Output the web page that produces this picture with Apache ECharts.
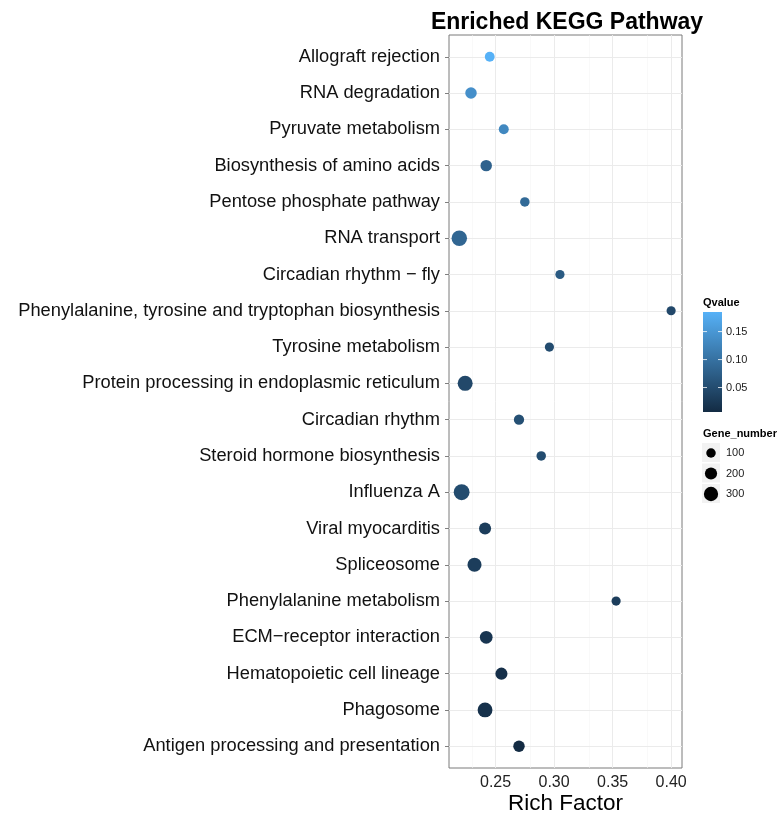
<!DOCTYPE html>
<html>
<head>
<meta charset="utf-8">
<script src="https://cdn.jsdelivr.net/npm/echarts@6/dist/echarts.min.js"></script>
<style>html,body{margin:0;padding:0;background:#fff}#chart{width:781px;height:814px}</style>
</head>
<body>
<div id="chart"></div>
<script>
// ---- data (top to bottom) ----
var pathways = [
  "Allograft rejection",
  "RNA degradation",
  "Pyruvate metabolism",
  "Biosynthesis of amino acids",
  "Pentose phosphate pathway",
  "RNA transport",
  "Circadian rhythm \u2212 fly",
  "Phenylalanine, tyrosine and tryptophan biosynthesis",
  "Tyrosine metabolism",
  "Protein processing in endoplasmic reticulum",
  "Circadian rhythm",
  "Steroid hormone biosynthesis",
  "Influenza A",
  "Viral myocarditis",
  "Spliceosome",
  "Phenylalanine metabolism",
  "ECM\u2212receptor interaction",
  "Hematopoietic cell lineage",
  "Phagosome",
  "Antigen processing and presentation"
];
var richFactor = [0.245, 0.229, 0.257, 0.242, 0.275, 0.219, 0.305, 0.400, 0.296, 0.224,
                  0.270, 0.289, 0.221, 0.241, 0.232, 0.353, 0.242, 0.255, 0.241, 0.270];
var qValue = [0.185, 0.140, 0.130, 0.080, 0.090, 0.085, 0.070, 0.045, 0.050, 0.045,
              0.055, 0.050, 0.050, 0.030, 0.030, 0.030, 0.020, 0.012, 0.014, 0.0063];
var geneNumber = [110, 170, 115, 170, 100, 370, 90, 90, 90, 340,
                  125, 100, 390, 195, 290, 90, 225, 195, 330, 170];
var xTicks = [0.25, 0.30, 0.35, 0.40];
var xMinor = [0.225, 0.275, 0.325, 0.375];
var qTicks = [0.05, 0.10, 0.15];
var sizeBreaks = [100, 200, 300];

var qMin = 0.0063, qMax = 0.185;
var lowColor = '#132B43', highColor = '#56B1F7';
function diam(g){ return 3 + 0.65 * Math.sqrt(g); }

var rowIdx = pathways.map(function(p, i){ return i; });
var points = pathways.map(function(p, i){ return [richFactor[i], i, qValue[i], geneNumber[i], p]; });

var FONT = 'Liberation Sans';
var chart = echarts.init(document.getElementById('chart'), null, {renderer: 'canvas'});

// legend geometry
var cbLeft = 703, cbTop = 312, cbW = 19, cbH = 100;
var graphics = [];
graphics.push({type:'text', left: 703, top: 297, style:{text:'Qvalue', font:'bold 11px ' + FONT, fill:'#000'}});
graphics.push({type:'rect', shape:{x:cbLeft, y:cbTop, width:cbW, height:cbH},
  style:{fill: new echarts.graphic.LinearGradient(0, 0, 0, 1, [{offset:0, color:highColor}, {offset:1, color:lowColor}])}});
qTicks.forEach(function(v){
  var y = cbTop + cbH * (qMax - v) / (qMax - qMin);
  graphics.push({type:'line', shape:{x1:cbLeft, y1:y, x2:cbLeft+4, y2:y}, style:{stroke:'#fff', lineWidth:0.8}, z: 100});
  graphics.push({type:'line', shape:{x1:cbLeft+cbW-4, y1:y, x2:cbLeft+cbW, y2:y}, style:{stroke:'#fff', lineWidth:0.8}, z: 100});
  graphics.push({type:'text', x: 726, y: y, style:{text: v.toFixed(2), font:'11px ' + FONT, fill:'#1a1a1a', verticalAlign:'middle'}});
});
graphics.push({type:'text', left: 703, top: 428, style:{text:'Gene_number', font:'bold 11px ' + FONT, fill:'#000'}});
sizeBreaks.forEach(function(g, k){
  var cy = 453 + k * 20.5;
  graphics.push({type:'rect', shape:{x:702, y:cy-10, width:18, height:19}, style:{fill:'#f2f2f2'}});
  graphics.push({type:'circle', shape:{cx:711, cy:cy, r: diam(g)/2}, style:{fill:'#000'}, z: 10});
  graphics.push({type:'text', x: 726, y: cy, style:{text:String(g), font:'11px ' + FONT, fill:'#1a1a1a', verticalAlign:'middle'}});
});

var gridLines = [];
xTicks.forEach(function(v){ gridLines.push({xAxis: v, lineStyle:{color:'#ebebeb', width:1, type:'solid'}}); });
xMinor.forEach(function(v){ gridLines.push({xAxis: v, lineStyle:{color:'#f5f5f5', width:0.6, type:'solid'}}); });
rowIdx.forEach(function(i){ gridLines.push({yAxis: i, lineStyle:{color:'#ebebeb', width:1, type:'solid'}}); });

chart.setOption({
  backgroundColor: '#fff',
  animation: false,
  title: {
    text: 'Enriched KEGG Pathway', left: 562, top: 6, textAlign: 'center',
    textStyle: {fontFamily: FONT, fontWeight: 'bold', fontSize: 23, color: '#000'}
  },
  grid: {left: 449, right: 99, top: 35, bottom: 46, show: true, borderColor: '#7a7a7a', borderWidth: 1,
         backgroundColor: '#fff', containLabel: false, outerBoundsMode: 'none'},
  xAxis: {
    type: 'value', min: 0.2102, max: 0.4093,
    name: 'Rich Factor', nameLocation: 'middle', nameGap: 24, nameMoveOverlap: false,
    nameTextStyle: {fontFamily: FONT, fontSize: 22.5, color: '#000'},
    axisLine: {show: false},
    axisTick: {show: true, length: 4, customValues: xTicks, lineStyle: {color: '#7f7f7f'}},
    axisLabel: {customValues: xTicks, formatter: function(v){ return v.toFixed(2); }, fontFamily: FONT, fontSize: 16, color: '#222', margin: 7},
    splitLine: {show: false}
  },
  yAxis: {
    type: 'value', inverse: true, min: -0.6, max: pathways.length - 0.4,
    axisLine: {show: false},
    axisTick: {show: true, length: 4, customValues: rowIdx, lineStyle: {color: '#7f7f7f'}},
    axisLabel: {customValues: rowIdx, formatter: function(v){ return pathways[Math.round(v)]; },
                fontFamily: FONT, fontSize: 18.3, color: '#111', margin: 9},
    splitLine: {show: false}
  },
  visualMap: {
    type: 'continuous', show: false, seriesIndex: 1, dimension: 2, min: qMin, max: qMax,
    inRange: {color: [lowColor, highColor]}
  },
  series: [
    {
      type: 'scatter', data: points, silent: true, z: 1,
      itemStyle: {opacity: 0}, symbolSize: 0,
      markLine: {silent: true, symbol: 'none', label: {show: false}, data: gridLines}
    },
    {
      type: 'scatter', data: points, z: 5,
      symbolSize: function(d){ return diam(d[3]); },
      itemStyle: {opacity: 1}
    }
  ],
  graphic: graphics
});
</script>
</body>
</html>
